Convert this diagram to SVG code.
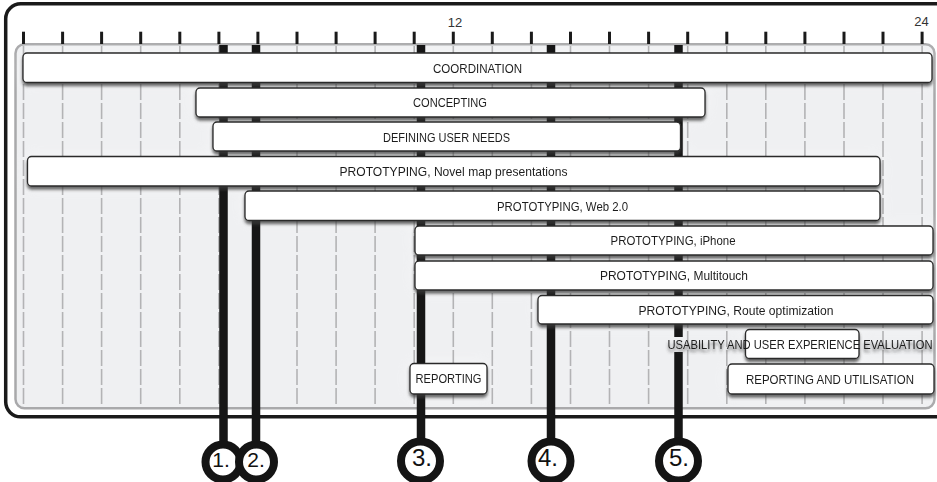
<svg xmlns="http://www.w3.org/2000/svg" width="937" height="482" viewBox="0 0 937 482">
<defs>
<style>
.tick{stroke:#1a1a1a;stroke-width:3}
.grid{stroke:#b3b3b5;stroke-width:1.6;stroke-dasharray:16 3}
.ms{stroke:#161616;stroke-width:8.5}
.bar{fill:#fff;stroke:#2a2a2a;stroke-width:1.3}
.lbl{font-family:"Liberation Sans",Arial,sans-serif;font-size:13px;fill:#1e1e1e;text-anchor:middle}
.num{font-family:"Liberation Sans",Arial,sans-serif;font-size:13px;fill:#333;text-anchor:middle}
.ring{fill:#fff;stroke:#141414;stroke-width:8}
.cn{font-family:"Liberation Sans",Arial,sans-serif;fill:#111;text-anchor:middle}
.glow{fill:#fff;opacity:0.55}
</style>
<filter id="sh" x="-5%" y="-40%" width="110%" height="200%">
<feGaussianBlur in="SourceAlpha" stdDeviation="1.4" result="b"/>
<feOffset in="b" dy="3" result="o"/>
<feFlood flood-color="#3a3a3a" flood-opacity="0.75"/>
<feComposite in2="o" operator="in" result="s"/>
<feMerge><feMergeNode in="s"/><feMergeNode in="SourceGraphic"/></feMerge>
</filter>
<filter id="gl" x="-20%" y="-100%" width="140%" height="300%">
<feGaussianBlur stdDeviation="7"/>
</filter>
</defs>

<!-- outer frame -->
<rect x="5.7" y="3.8" width="945" height="413" rx="15" fill="#fff" stroke="#1a1a1a" stroke-width="3.5"/>
<!-- inner panel -->
<rect x="15.5" y="44.3" width="919" height="364" rx="9" fill="#eff0f2" stroke="#a9a9ab" stroke-width="2.5"/>

<!-- glow behind bars -->
<g filter="url(#gl)" class="glow">
<rect x="23" y="53" width="909" height="29.5"/>
<rect x="196" y="88" width="509" height="29"/>
<rect x="213" y="122" width="467.5" height="29"/>
<rect x="27.5" y="156.5" width="852.5" height="29.5"/>
<rect x="245" y="191" width="635" height="29.5"/>
<rect x="415" y="226" width="518" height="29"/>
<rect x="415" y="261" width="518" height="29"/>
<rect x="538" y="295.5" width="395" height="28.5"/>
<rect x="745.5" y="329.5" width="113.5" height="29"/>
<rect x="728" y="364" width="206" height="30"/>
<rect x="410" y="363.5" width="77" height="30.5"/>
</g>

<!-- grid -->
<g id="grid" class="grid">
<line x1="23.5" y1="46" x2="23.5" y2="407"/>
<line x1="62.6" y1="46" x2="62.6" y2="407"/>
<line x1="101.6" y1="46" x2="101.6" y2="407"/>
<line x1="140.7" y1="46" x2="140.7" y2="407"/>
<line x1="179.8" y1="46" x2="179.8" y2="407"/>
<line x1="218.9" y1="46" x2="218.9" y2="407"/>
<line x1="257.9" y1="46" x2="257.9" y2="407"/>
<line x1="297" y1="46" x2="297" y2="407"/>
<line x1="336.1" y1="46" x2="336.1" y2="407"/>
<line x1="375.1" y1="46" x2="375.1" y2="407"/>
<line x1="414.2" y1="46" x2="414.2" y2="407"/>
<line x1="453.3" y1="46" x2="453.3" y2="407"/>
<line x1="492.3" y1="46" x2="492.3" y2="407"/>
<line x1="531.4" y1="46" x2="531.4" y2="407"/>
<line x1="570.5" y1="46" x2="570.5" y2="407"/>
<line x1="609.5" y1="46" x2="609.5" y2="407"/>
<line x1="648.6" y1="46" x2="648.6" y2="407"/>
<line x1="687.7" y1="46" x2="687.7" y2="407"/>
<line x1="726.8" y1="46" x2="726.8" y2="407"/>
<line x1="765.8" y1="46" x2="765.8" y2="407"/>
<line x1="804.9" y1="46" x2="804.9" y2="407"/>
<line x1="844" y1="46" x2="844" y2="407"/>
<line x1="883" y1="46" x2="883" y2="407"/>
<line x1="922.1" y1="46" x2="922.1" y2="407"/>
</g>

<!-- ticks -->
<g id="ticks" class="tick">
<line x1="23.5" y1="31.7" x2="23.5" y2="44"/>
<line x1="62.6" y1="31.7" x2="62.6" y2="44"/>
<line x1="101.6" y1="31.7" x2="101.6" y2="44"/>
<line x1="140.7" y1="31.7" x2="140.7" y2="44"/>
<line x1="179.8" y1="31.7" x2="179.8" y2="44"/>
<line x1="218.9" y1="31.7" x2="218.9" y2="44"/>
<line x1="257.9" y1="31.7" x2="257.9" y2="44"/>
<line x1="297" y1="31.7" x2="297" y2="44"/>
<line x1="336.1" y1="31.7" x2="336.1" y2="44"/>
<line x1="375.1" y1="31.7" x2="375.1" y2="44"/>
<line x1="414.2" y1="31.7" x2="414.2" y2="44"/>
<line x1="453.3" y1="31.7" x2="453.3" y2="44"/>
<line x1="492.3" y1="31.7" x2="492.3" y2="44"/>
<line x1="531.4" y1="31.7" x2="531.4" y2="44"/>
<line x1="570.5" y1="31.7" x2="570.5" y2="44"/>
<line x1="609.5" y1="31.7" x2="609.5" y2="44"/>
<line x1="648.6" y1="31.7" x2="648.6" y2="44"/>
<line x1="687.7" y1="31.7" x2="687.7" y2="44"/>
<line x1="726.8" y1="31.7" x2="726.8" y2="44"/>
<line x1="765.8" y1="31.7" x2="765.8" y2="44"/>
<line x1="804.9" y1="31.7" x2="804.9" y2="44"/>
<line x1="844" y1="31.7" x2="844" y2="44"/>
<line x1="883" y1="31.7" x2="883" y2="44"/>
<line x1="922.1" y1="31.7" x2="922.1" y2="44"/>
</g>
<text class="num" x="455" y="27">12</text>
<text class="num" x="921.5" y="25.5">24</text>

<!-- milestone connectors -->
<g id="connectors" class="ms">
<line x1="223.5" y1="45" x2="223.5" y2="445"/>
<line x1="256" y1="45" x2="256" y2="445"/>
<line x1="421" y1="45" x2="421" y2="445"/>
<line x1="551" y1="45" x2="551" y2="445"/>
<line x1="678.5" y1="45" x2="678.5" y2="337"/>
<line x1="678.5" y1="352" x2="678.5" y2="445"/>
</g>

<!-- bars -->
<g id="coordination" filter="url(#sh)">
<rect class="bar" x="23" y="53" width="909" height="29.5" rx="4"/>
<text class="lbl" x="477.5" y="72.5" textLength="89" lengthAdjust="spacingAndGlyphs">COORDINATION</text>
</g>
<g id="concepting" filter="url(#sh)">
<rect class="bar" x="196" y="88" width="509" height="29" rx="4"/>
<text class="lbl" x="450" y="107" textLength="74" lengthAdjust="spacingAndGlyphs">CONCEPTING</text>
</g>
<g id="defining" filter="url(#sh)">
<rect class="bar" x="213" y="122" width="467.5" height="29" rx="4"/>
<text class="lbl" x="446.5" y="141.5" textLength="127" lengthAdjust="spacingAndGlyphs">DEFINING USER NEEDS</text>
</g>
<g id="proto-novel" filter="url(#sh)">
<rect class="bar" x="27.5" y="156.5" width="852.5" height="29.5" rx="4"/>
<text class="lbl" x="453.5" y="176" textLength="228" lengthAdjust="spacingAndGlyphs">PROTOTYPING, Novel map presentations</text>
</g>
<g id="proto-web" filter="url(#sh)">
<rect class="bar" x="245" y="191" width="635" height="29.5" rx="4"/>
<text class="lbl" x="562.5" y="210.5" textLength="131" lengthAdjust="spacingAndGlyphs">PROTOTYPING, Web 2.0</text>
</g>
<g id="proto-iphone" filter="url(#sh)">
<rect class="bar" x="415" y="226" width="518" height="29" rx="4"/>
<text class="lbl" x="673" y="245" textLength="125" lengthAdjust="spacingAndGlyphs">PROTOTYPING, iPhone</text>
</g>
<g id="proto-multitouch" filter="url(#sh)">
<rect class="bar" x="415" y="261" width="518" height="29" rx="4"/>
<text class="lbl" x="674" y="280" textLength="148" lengthAdjust="spacingAndGlyphs">PROTOTYPING, Multitouch</text>
</g>
<g id="proto-route" filter="url(#sh)">
<rect class="bar" x="538" y="295.5" width="395" height="28.5" rx="4"/>
<text class="lbl" x="736" y="314.5" textLength="195" lengthAdjust="spacingAndGlyphs">PROTOTYPING, Route optimization</text>
</g>
<g id="usability" filter="url(#sh)">
<rect class="bar" x="745.5" y="329.5" width="113.5" height="29" rx="4"/>
<text class="lbl" x="800" y="349" textLength="265" lengthAdjust="spacingAndGlyphs">USABILITY AND USER EXPERIENCE EVALUATION</text>
</g>
<g id="reporting-utilisation" filter="url(#sh)">
<rect class="bar" x="728" y="364" width="206" height="30" rx="4"/>
<text class="lbl" x="830" y="383.5" textLength="168" lengthAdjust="spacingAndGlyphs">REPORTING AND UTILISATION</text>
</g>
<g id="reporting" filter="url(#sh)">
<rect class="bar" x="410" y="363.5" width="77" height="30.5" rx="4"/>
<text class="lbl" x="448.5" y="383" textLength="66" lengthAdjust="spacingAndGlyphs">REPORTING</text>
</g>

<!-- milestone markers -->
<g id="m1">
<circle class="ring" cx="223" cy="462" r="17.5"/>
<text class="cn" x="221" y="467" font-size="21">1.</text>
</g>
<g id="m2">
<circle class="ring" cx="256.5" cy="462" r="17.5"/>
<text class="cn" x="256" y="467" font-size="21">2.</text>
</g>
<g id="m3">
<circle class="ring" cx="420.5" cy="461" r="19.5"/>
<text class="cn" x="422" y="465.5" font-size="24">3.</text>
</g>
<g id="m4">
<circle class="ring" cx="551" cy="461" r="19.5"/>
<text class="cn" x="548" y="465.5" font-size="24">4.</text>
</g>
<g id="m5">
<circle class="ring" cx="678.5" cy="461" r="19.5"/>
<text class="cn" x="679" y="465.5" font-size="24">5.</text>
</g>
</svg>
